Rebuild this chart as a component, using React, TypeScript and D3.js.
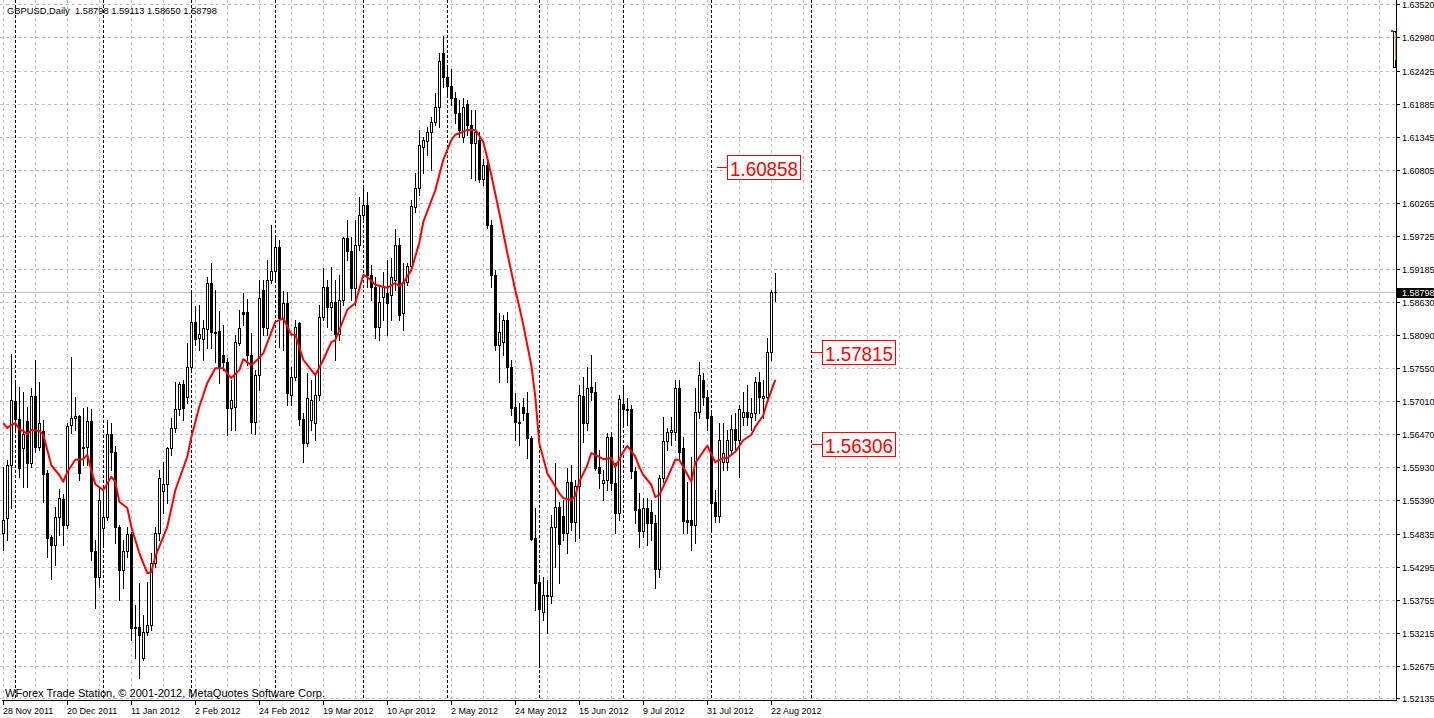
import React from "react";
import * as d3 from "d3";

// Daily GBPUSD candles (28 Nov 2011 .. 23 Aug 2012)
const opens = [
  1.5485, 1.5509, 1.5596, 1.5701, 1.5672, 1.5624, 1.5669, 1.56, 1.571, 1.5626,
  1.5652, 1.5583, 1.5478, 1.5465, 1.5511, 1.5541, 1.5498, 1.5662, 1.5673, 1.5677,
  1.5624, 1.5626, 1.5669, 1.5455, 1.5413, 1.5493, 1.5511, 1.5647, 1.5618, 1.5495,
  1.5424, 1.5455, 1.5483, 1.5331, 1.5331, 1.528, 1.5323, 1.5334, 1.5436, 1.5485,
  1.5554, 1.5565, 1.5624, 1.5657, 1.5688, 1.5729, 1.5708, 1.5757, 1.5831, 1.5805,
  1.5803, 1.5819, 1.5895, 1.5815, 1.5816, 1.5777, 1.5765, 1.569, 1.5692, 1.5796,
  1.5847, 1.5847, 1.5777, 1.5667, 1.5744, 1.5883, 1.5821, 1.59, 1.5915, 1.5954,
  1.5837, 1.5862, 1.5711, 1.5741, 1.5829, 1.5672, 1.5632, 1.567, 1.5665, 1.5711,
  1.5839, 1.5888, 1.5856, 1.5864, 1.5811, 1.5867, 1.5969, 1.5947, 1.5887, 1.5957,
  1.6006, 1.6023, 1.5908, 1.5888, 1.5823, 1.5872, 1.5878, 1.5875, 1.59, 1.5957,
  1.5846, 1.5897, 1.5923, 1.602, 1.6051, 1.6118, 1.6128, 1.6143, 1.6159, 1.6184,
  1.6272, 1.6233, 1.6218, 1.6198, 1.6174, 1.6134, 1.6188, 1.6154, 1.6124, 1.6129,
  1.6065, 1.6088, 1.599, 1.5908, 1.5793, 1.5798, 1.5834, 1.5757, 1.5692, 1.5667,
  1.5692, 1.5682, 1.5641, 1.5477, 1.5405, 1.5355, 1.5382, 1.5382, 1.5495, 1.5528,
  1.5513, 1.5485, 1.5569, 1.5503, 1.5562, 1.571, 1.5665, 1.5724, 1.5716, 1.5593,
  1.5567, 1.5572, 1.5642, 1.5567, 1.5518, 1.5696, 1.5688, 1.5688, 1.5587, 1.5524,
  1.5488, 1.5526, 1.5519, 1.5501, 1.5426, 1.5575, 1.5636, 1.5651, 1.5651, 1.5723,
  1.5624, 1.5506, 1.5506, 1.5498, 1.5683, 1.5736, 1.5708, 1.5677, 1.5536, 1.5513,
  1.5601, 1.5601, 1.5621, 1.5655, 1.5637, 1.5675, 1.5683, 1.5675, 1.5682, 1.5733,
  1.5706, 1.5708, 1.5782, 1.58798,
];
const highs = [
  1.5593, 1.5605, 1.5778, 1.5736, 1.5724, 1.5716, 1.5692, 1.5723, 1.5769, 1.5733,
  1.567, 1.5588, 1.5482, 1.5528, 1.5557, 1.5549, 1.5665, 1.5774, 1.5708, 1.5678,
  1.569, 1.5692, 1.5688, 1.5473, 1.5559, 1.5552, 1.567, 1.5665, 1.5628, 1.5498,
  1.5473, 1.5495, 1.5487, 1.5367, 1.5403, 1.535, 1.5405, 1.5452, 1.5495, 1.5588,
  1.5601, 1.5626, 1.5673, 1.5733, 1.5733, 1.5736, 1.5796, 1.5883, 1.5857, 1.5859,
  1.5834, 1.5905, 1.5928, 1.5883, 1.5849, 1.5826, 1.5772, 1.5736, 1.581, 1.5851,
  1.5878, 1.5869, 1.5813, 1.5752, 1.59, 1.59, 1.5933, 1.599, 1.5974, 1.5965,
  1.5882, 1.588, 1.5757, 1.5834, 1.5831, 1.5682, 1.5747, 1.5736, 1.5747, 1.5859,
  1.5919, 1.59, 1.5921, 1.59, 1.5908, 1.597, 1.5998, 1.597, 1.5998, 1.6036,
  1.6056, 1.6044, 1.5924, 1.5905, 1.5892, 1.5913, 1.5933, 1.5936, 1.5983, 1.5969,
  1.5928, 1.5928, 1.6031, 1.6075, 1.6146, 1.6134, 1.6151, 1.6167, 1.6206, 1.6272,
  1.63, 1.6247, 1.6246, 1.6208, 1.6195, 1.6198, 1.6195, 1.6179, 1.6179, 1.6143,
  1.6098, 1.6097, 1.5998, 1.5916, 1.5846, 1.5842, 1.5847, 1.5769, 1.5714, 1.5698,
  1.5706, 1.5716, 1.5644, 1.5526, 1.5413, 1.5413, 1.5408, 1.5514, 1.56, 1.5536,
  1.5539, 1.5591, 1.5596, 1.5572, 1.5728, 1.5741, 1.5757, 1.5777, 1.5733, 1.5621,
  1.5588, 1.5649, 1.5651, 1.56, 1.5711, 1.5724, 1.5706, 1.5695, 1.5593, 1.555,
  1.5542, 1.5542, 1.5539, 1.5514, 1.558, 1.5675, 1.5657, 1.5675, 1.5736, 1.5736,
  1.5642, 1.5569, 1.561, 1.5723, 1.5765, 1.5747, 1.5719, 1.5682, 1.5555, 1.5665,
  1.5665, 1.5654, 1.5678, 1.5682, 1.5695, 1.5716, 1.5728, 1.5706, 1.5741, 1.5749,
  1.5736, 1.5805, 1.5883, 1.59113,
];
const lows = [
  1.5457, 1.5473, 1.5526, 1.5654, 1.5577, 1.556, 1.556, 1.5593, 1.5618, 1.5621,
  1.5536, 1.5446, 1.5409, 1.5432, 1.5482, 1.5465, 1.5493, 1.5649, 1.5654, 1.5572,
  1.5596, 1.5596, 1.5441, 1.5362, 1.5396, 1.5467, 1.5506, 1.5588, 1.5468, 1.5375,
  1.5395, 1.5446, 1.5309, 1.528, 1.5247, 1.5277, 1.5318, 1.5326, 1.5429, 1.5473,
  1.5518, 1.5534, 1.5613, 1.5651, 1.5678, 1.567, 1.5698, 1.5749, 1.5793, 1.5785,
  1.5769, 1.5788, 1.5788, 1.5765, 1.5731, 1.5752, 1.5646, 1.5654, 1.5654, 1.5793,
  1.5826, 1.576, 1.5649, 1.5647, 1.5719, 1.581, 1.581, 1.5895, 1.5897, 1.579,
  1.5785, 1.5695, 1.5695, 1.5736, 1.5662, 1.5601, 1.5628, 1.5654, 1.5637, 1.5703,
  1.5834, 1.5823, 1.5818, 1.5769, 1.5801, 1.5859, 1.5933, 1.5867, 1.5859, 1.5949,
  1.5995, 1.5888, 1.5867, 1.5805, 1.5801, 1.5834, 1.581, 1.5834, 1.5883, 1.5834,
  1.5818, 1.5892, 1.5916, 1.6011, 1.6039, 1.6075, 1.6105, 1.608, 1.6154, 1.6151,
  1.6216, 1.6203, 1.6187, 1.6157, 1.6134, 1.6126, 1.6138, 1.6067, 1.6064, 1.6061,
  1.6056, 1.5985, 1.5888, 1.5785, 1.5733, 1.5777, 1.5733, 1.5678, 1.5637, 1.5629,
  1.567, 1.5608, 1.5473, 1.5359, 1.5267, 1.5342, 1.5321, 1.537, 1.5429, 1.5403,
  1.5473, 1.5452, 1.549, 1.5472, 1.5477, 1.5634, 1.5654, 1.5703, 1.5588, 1.5559,
  1.5539, 1.5555, 1.5555, 1.5485, 1.5506, 1.5659, 1.5662, 1.5575, 1.5501, 1.5462,
  1.5478, 1.5465, 1.5473, 1.5395, 1.5413, 1.5569, 1.5621, 1.5629, 1.5637, 1.5605,
  1.5485, 1.5485, 1.5457, 1.5468, 1.5673, 1.5695, 1.5654, 1.549, 1.5503, 1.5503,
  1.5588, 1.5588, 1.5613, 1.5621, 1.5577, 1.5662, 1.5662, 1.5654, 1.567, 1.5682,
  1.5673, 1.5703, 1.5769, 1.5865,
];
const closes = [
  1.5506, 1.5596, 1.5703, 1.5672, 1.5591, 1.5647, 1.56, 1.571, 1.5626, 1.5665,
  1.5582, 1.5477, 1.5465, 1.5511, 1.5542, 1.5498, 1.566, 1.5673, 1.5677, 1.5583,
  1.5626, 1.5669, 1.5455, 1.5413, 1.5539, 1.5511, 1.5647, 1.5618, 1.5495, 1.5424,
  1.5455, 1.5483, 1.5329, 1.5329, 1.5318, 1.5323, 1.5334, 1.5436, 1.5485, 1.5575,
  1.5565, 1.5624, 1.5657, 1.5688, 1.5729, 1.569, 1.5757, 1.5831, 1.5803, 1.5811,
  1.5821, 1.5895, 1.5815, 1.5813, 1.5755, 1.5765, 1.569, 1.5703, 1.5798, 1.5821,
  1.5844, 1.5777, 1.5667, 1.5744, 1.587, 1.5823, 1.59, 1.5915, 1.5954, 1.5837,
  1.5862, 1.5714, 1.5741, 1.5823, 1.5672, 1.5632, 1.5706, 1.5703, 1.5711, 1.5839,
  1.5888, 1.5856, 1.5864, 1.5811, 1.5867, 1.5969, 1.5947, 1.5887, 1.5957, 1.6006,
  1.6023, 1.5908, 1.5888, 1.5823, 1.5864, 1.5888, 1.5862, 1.5905, 1.5957, 1.5842,
  1.5897, 1.5923, 1.6021, 1.6051, 1.6121, 1.6129, 1.6143, 1.6159, 1.6184, 1.6259,
  1.6233, 1.6218, 1.6198, 1.6174, 1.6146, 1.6184, 1.6154, 1.6124, 1.6143, 1.6065,
  1.6088, 1.599, 1.5908, 1.5793, 1.5815, 1.5834, 1.5757, 1.569, 1.5667, 1.5665,
  1.5682, 1.5641, 1.5475, 1.5403, 1.536, 1.5383, 1.5383, 1.5495, 1.5528, 1.5467,
  1.5485, 1.5569, 1.5503, 1.5562, 1.5711, 1.5665, 1.5723, 1.5716, 1.5591, 1.5583,
  1.5572, 1.5642, 1.5567, 1.5518, 1.5705, 1.5688, 1.5687, 1.5587, 1.5523, 1.5488,
  1.5526, 1.5501, 1.5501, 1.5426, 1.5575, 1.5636, 1.5651, 1.5654, 1.5723, 1.5618,
  1.5505, 1.5503, 1.5498, 1.5683, 1.5744, 1.5708, 1.5673, 1.5534, 1.5513, 1.5637,
  1.5616, 1.5637, 1.5655, 1.5637, 1.5688, 1.5683, 1.5675, 1.5682, 1.5733, 1.5708,
  1.571, 1.5782, 1.588, 1.58798,
];

// Moving average (red line): bar index / value
const maIndex = [
  0, 1, 2, 3, 4, 5, 6, 7, 9, 10, 11, 12, 14, 15, 16, 18, 20, 21, 22, 23, 25, 27, 28, 29, 31, 32, 34, 36, 37, 38,
  41, 43, 46, 47, 49, 51, 53, 55, 57, 59, 60, 62, 64, 65, 68, 70, 72, 73, 75, 77, 78, 80, 82, 83, 86, 88, 90, 91,
  93, 96, 98, 99, 100, 102, 104, 105, 108, 110, 112, 113, 115, 116, 118, 120, 121, 122, 124, 126, 128, 129, 130,
  132, 133, 134, 136, 137, 139, 140, 142, 143, 144, 146, 147, 148, 150, 152, 153, 155, 156, 158, 159, 160, 162,
  163, 164, 166, 168, 169, 172, 173, 176, 178, 180, 181, 183, 185, 187, 188, 190, 191, 193,
];
const maValues = [
  1.5665, 1.5657, 1.5662, 1.5665, 1.5655, 1.5652, 1.5647, 1.5654, 1.5652, 1.5646, 1.5621, 1.5596, 1.558, 1.5569,
  1.5585, 1.5605, 1.5606, 1.5613, 1.5588, 1.5565, 1.5555, 1.5577, 1.5569, 1.5536, 1.5526, 1.5495, 1.5452, 1.5419,
  1.5421, 1.5446, 1.5495, 1.5555, 1.561, 1.5642, 1.5692, 1.5731, 1.5755, 1.5755, 1.5739, 1.5752, 1.577, 1.576,
  1.5772, 1.578, 1.5831, 1.5837, 1.581, 1.581, 1.5769, 1.5752, 1.5744, 1.5769, 1.5798, 1.5801, 1.5851, 1.5862,
  1.5908, 1.5905, 1.5892, 1.5887, 1.5895, 1.589, 1.5895, 1.5916, 1.5961, 1.5995, 1.6047, 1.6097, 1.6129, 1.6138,
  1.6143, 1.6146, 1.6146, 1.6126, 1.61, 1.6072, 1.601, 1.5944, 1.5883, 1.5856, 1.5826, 1.576, 1.5708, 1.5632,
  1.5583, 1.5572, 1.555, 1.5542, 1.5539, 1.5546, 1.5569, 1.5596, 1.5616, 1.5613, 1.5606, 1.5608, 1.5593, 1.5618,
  1.5628, 1.561, 1.5593, 1.558, 1.5564, 1.5544, 1.5547, 1.5575, 1.5605, 1.5605, 1.5569, 1.56, 1.5628, 1.5601,
  1.5608, 1.5608, 1.5618, 1.5637, 1.5646, 1.5659, 1.5678, 1.57, 1.5736,
];

const priceTickLabels = [
  "1.63520", "1.62980", "1.62425", "1.61885", "1.61345", "1.60805", "1.60265", "1.59725", "1.59185", "1.58630",
  "1.58090", "1.57550", "1.57010", "1.56470", "1.55930", "1.55390", "1.54835", "1.54295", "1.53755", "1.53215",
  "1.52675", "1.52135",
];
const dateTickLabels = [
  "28 Nov 2011", "20 Dec 2011", "11 Jan 2012", "2 Feb 2012", "24 Feb 2012", "19 Mar 2012", "10 Apr 2012",
  "2 May 2012", "24 May 2012", "15 Jun 2012", "9 Jul 2012", "31 Jul 2012", "22 Aug 2012",
];
const dateTickIndex = [0, 16, 32, 48, 64, 80, 96, 112, 128, 144, 160, 176, 192];
const monthSeparatorIndex = [3, 25, 47, 68, 90, 111, 134, 155, 177, 202];

const levelTexts = ["1.60858", "1.57815", "1.56306"];
const levelValues = [1.60858, 1.57815, 1.56306];
const levelAnchorIndex = [178.35, 202.1, 202.1];

const lastPrice = 1.58798;
const chartTitle = "GBPUSD,Daily  1.58798 1.59113 1.58650 1.58798";
const footerText = "WForex Trade Station, \u00A9 2001-2012, MetaQuotes Software Corp.";

const FONT = "'Liberation Sans', Arial, sans-serif";

export default function App() {
  const W = 1434;
  const H = 718;
  const plotRight = 1396;
  const plotBottom = 700;

  const x = d3.scaleLinear().domain([0, 193]).range([3.3, 775.3]);
  const y = d3.scaleLinear().domain([1.6359, 1.5211]).range([0, 700]);

  const gridX: number[] = [];
  for (let k = 0; x(k * 8) < plotRight; k++) gridX.push(Math.round(x(k * 8)) + 0.5);

  const maLine = d3
    .line<number>()
    .x((_, i) => x(maIndex[i]))
    .y((d) => y(d));

  const candles = closes.map((c, i) => {
    const o = opens[i];
    const cx = Math.round(x(i));
    const yt = Math.round(y(Math.max(o, c)));
    const yb = Math.round(y(Math.min(o, c)));
    const yh = Math.round(y(highs[i]));
    const yl = Math.round(y(lows[i]));
    const els: React.ReactNode[] = [];
    els.push(<rect key="w" x={cx} y={yh} width={1} height={yl - yh + 1} fill="#000" />);
    if (yb - yt < 1) {
      els.push(<rect key="d" x={cx - 1} y={yt} width={3} height={1} fill="#000" />);
    } else if (c > o) {
      els.push(<rect key="b" x={cx - 1} y={yt} width={3} height={yb - yt + 1} fill="#000" />);
      if (yb - yt > 1)
        els.push(<rect key="i" x={cx} y={yt + 1} width={1} height={yb - yt - 1} fill="#fff" />);
    } else {
      els.push(<rect key="b" x={cx - 1} y={yt} width={3} height={yb - yt + 1} fill="#000" />);
    }
    return <g key={i}>{els}</g>;
  });

  const lastY = Math.round(y(lastPrice)) + 0.5;

  return (
    <div style={{ position: "absolute", left: 0, top: 0, width: W, height: H, background: "#fff" }}>
      <svg width={W} height={H} style={{ display: "block" }} fontFamily={FONT}>
        <rect x={0} y={0} width={W} height={H} fill="#fff" />
        <g shapeRendering="crispEdges">
          {/* horizontal grid */}
          {priceTickLabels.map((t) => {
            const yy = Math.round(y(+t)) + 0.5;
            return (
              <line key={"h" + t} x1={0} x2={plotRight} y1={yy} y2={yy} stroke="#c0c0c0" strokeDasharray="3,3" />
            );
          })}
          {/* vertical grid */}
          {gridX.map((gx) => (
            <line key={"v" + gx} x1={gx} x2={gx} y1={0} y2={plotBottom} stroke="#c0c0c0" strokeDasharray="3,3" />
          ))}
          {/* period separators */}
          {monthSeparatorIndex.map((idx) => {
            const sx = Math.round(x(idx)) + 0.5;
            return <line key={"s" + idx} x1={sx} x2={sx} y1={0} y2={plotBottom} stroke="#000" strokeDasharray="3,2" />;
          })}
          {/* last price line */}
          <line x1={0} x2={plotRight} y1={lastY} y2={lastY} stroke="#c0c0c0" />
          {candles}
        </g>

        {/* moving average */}
        <path d={maLine(maValues) || ""} fill="none" stroke="#ff0000" strokeWidth={2} strokeLinejoin="round" />

        {/* level labels */}
        {levelTexts.map((t, i) => {
          const ax = x(levelAnchorIndex[i]);
          const cy = Math.round(y(levelValues[i])) + 0.5;
          const bx = Math.round(ax) + 10.5;
          return (
            <g key={"lvl" + t}>
              <line x1={Math.round(ax)} x2={bx} y1={cy} y2={cy} stroke="#ff0000" shapeRendering="crispEdges" />
              <rect x={bx} y={cy - 12} width={73} height={24} fill="#fff" stroke="#ff0000" shapeRendering="crispEdges" />
              <text x={bx + 2.5} y={cy + 8.5} fontSize={21} fill="#ff0000" textLength={68} lengthAdjust="spacingAndGlyphs">
                {t}
              </text>
            </g>
          );
        })}

        {/* small object at right edge */}
        <g shapeRendering="crispEdges">
          <rect x={1391} y={30} width={2} height={2} fill="#ff0000" />
          <rect x={1393.5} y={31.5} width={2} height={36} fill="none" stroke="#000" />
          <line x1={1395.5} x2={1395.5} y1={33} y2={60} stroke="#ff8000" />
        </g>

        {/* axes */}
        <g shapeRendering="crispEdges">
          <rect x={plotRight} y={0} width={1} height={plotBottom + 1} fill="#000" />
          <rect x={2} y={plotBottom} width={plotRight - 2} height={1} fill="#000" />
          {priceTickLabels.map((t) => {
            const yy = Math.round(y(+t));
            return <rect key={"pt" + t} x={plotRight + 1} y={yy} width={3} height={1} fill="#000" />;
          })}
          {dateTickIndex.map((idx) => (
            <rect key={"dt" + idx} x={Math.round(x(idx))} y={plotBottom + 1} width={1} height={4} fill="#000" />
          ))}
        </g>

        {priceTickLabels.map((t) => (
          <text key={"pl" + t} x={1402} y={Math.round(y(+t)) + 3.5} fontSize={9} fill="#000">
            {t}
          </text>
        ))}

        {/* last price marker */}
        <rect x={1397} y={lastY - 5} width={37} height={10} fill="#000" shapeRendering="crispEdges" />
        <text x={1402} y={lastY + 3.5} fontSize={9} fill="#fff">
          {lastPrice.toFixed(5)}
        </text>

        {dateTickLabels.map((t, i) => (
          <text key={"dl" + t} x={Math.round(x(dateTickIndex[i]))} y={714} fontSize={9} fill="#000">
            {t}
          </text>
        ))}

        <text x={7} y={13.5} fontSize={9} fill="#000" style={{ whiteSpace: "pre" }} textLength={210} lengthAdjust="spacingAndGlyphs">
          {chartTitle}
        </text>
        <text x={5} y={697} fontSize={10} fill="#000" textLength={320} lengthAdjust="spacingAndGlyphs">
          {footerText}
        </text>
      </svg>
    </div>
  );
}
